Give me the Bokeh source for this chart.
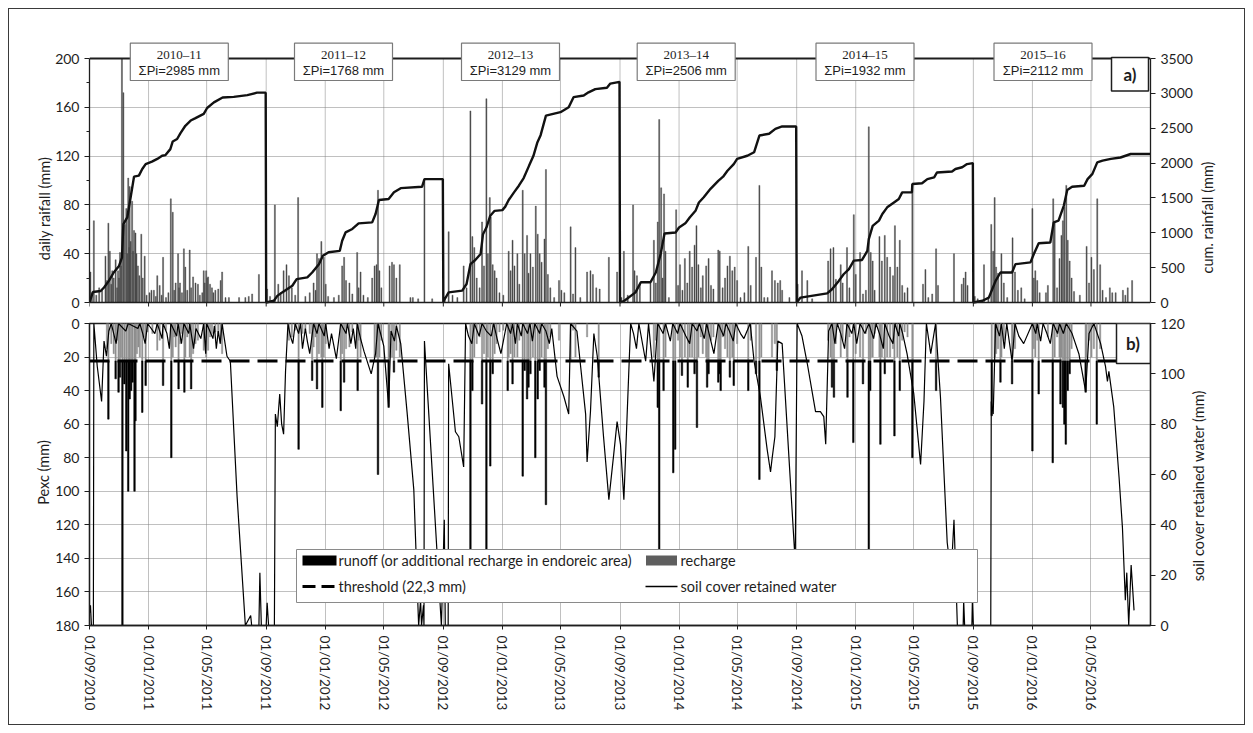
import math
import numpy as np
import pandas as pd
from bokeh.plotting import figure
from bokeh.models import Range1d, LinearAxis, FixedTicker, Label
from bokeh.layouts import column
from bokeh.core.properties import value
from bokeh.embed import file_html
from bokeh.resources import INLINE

# ---------------- data ----------------
START = pd.Timestamp("2010-09-01")
END = pd.Timestamp("2016-09-01")

x_tick_labels = ["01/09/2010", "01/01/2011", "01/05/2011", "01/09/2011", "01/01/2012", "01/05/2012",
                 "01/09/2012", "01/01/2013", "01/05/2013", "01/09/2013", "01/01/2014", "01/05/2014",
                 "01/09/2014", "01/01/2015", "01/05/2015", "01/09/2015", "01/01/2016", "01/05/2016"]

season_names = ["2010\u201311", "2011\u201312", "2012\u201313", "2013\u201314", "2014\u201315", "2015\u201316"]
season_totals = [2985, 1768, 3129, 2506, 1932, 2112]
threshold_mm = 22.3

# daily rainfall (day since 01/09/2010, mm)
rain_s1 = [(2,25),(5,8),(9,67),(14,6),(20,12),(26,10),(33,38),(36,18),(39,65),(42,42),(45,15),(47,26),(50,20),(54,35),(57,12),(59,26),(61,20),(63,41),(65,30),(67,215),(70,172),(73,64),(76,77),(78,40),(80,102),(82,45),(83,95),(85,50),(88,83),(90,42),(92,59),(95,57),(97,40),(100,30),(103,22),(107,56),(110,20),(114,38),(118,6),(124,8),(128,10),(133,10),(137,5),(140,22),(145,14),(149,6),(152,37),(158,4),(163,8),(168,85),(172,74),(175,10),(178,16),(183,40),(185,12),(187,16),(191,8),(195,44),(198,29),(202,10),(207,43),(210,12),(214,21),(219,16),(224,15),(228,6),(233,8),(236,26),(238,16),(241,26),(243,20),(245,21),(249,15),(253,12),(256,8),(260,10),(266,11),(271,18),(274,25),(281,4),(288,4),(309,4),(322,4),(329,5),(336,7),(350,23)]
rain_s2 = [(367,11),(373,5),(383,80),(390,15),(395,8),(401,26),(407,31),(412,22),(418,12),(425,6),(431,86),(446,5),(455,8),(463,16),(467,10),(470,40),(474,36),(479,50),(484,37),(488,15),(493,5),(505,4),(515,6),(522,30),(526,37),(530,18),(537,16),(543,7),(553,41),(556,12),(560,25),(566,6),(575,4),(584,20),(589,30),(593,31),(596,92),(599,26),(603,12),(620,30),(625,33),(629,31),(634,20),(641,31),(663,4),(668,4),(679,3),(692,100),(708,3)]
rain_s3 = [(734,4),(742,58),(750,6),(760,4),(773,30),(779,12),(787,157),(791,54),(795,45),(800,20),(806,12),(811,66),(815,30),(820,167),(823,40),(827,86),(829,70),(833,31),(837,26),(841,20),(847,8),(855,6),(866,42),(870,26),(874,51),(878,30),(884,40),(888,15),(895,92),(899,40),(904,55),(907,24),(911,40),(916,29),(922,79),(926,56),(930,40),(934,33),(940,52),(943,109),(947,23),(952,12),(960,4),(970,18),(975,10),(981,8),(994,62),(999,7),(1004,45),(1014,4),(1028,25),(1035,26),(1040,23),(1047,12),(1054,11),(1073,37),(1090,25)]
rain_s4 = [(1099,4),(1104,42),(1112,6),(1123,80),(1126,26),(1131,22),(1137,15),(1159,16),(1166,51),(1170,16),(1174,66),(1177,150),(1181,94),(1184,20),(1187,89),(1190,42),(1197,4),(1212,76),(1216,14),(1220,31),(1225,10),(1230,36),(1235,16),(1240,42),(1245,29),(1250,47),(1254,63),(1258,31),(1263,12),(1267,22),(1274,30),(1279,36),(1284,14),(1289,11),(1299,43),(1302,42),(1308,12),(1313,20),(1318,30),(1323,38),(1328,26),(1333,29),(1338,18),(1345,4),(1353,8),(1361,46),(1366,14),(1377,37),(1384,96),(1388,29),(1394,4),(1401,4),(1410,26),(1416,18),(1422,16),(1427,18),(1431,10),(1446,4)]
rain_s5 = [(1463,15),(1472,26),(1483,18),(1493,3),(1526,34),(1531,44),(1537,45),(1542,19),(1552,31),(1556,16),(1565,45),(1570,12),(1579,72),(1583,23),(1592,41),(1598,7),(1604,10),(1610,144),(1614,41),(1618,34),(1622,10),(1632,54),(1637,34),(1643,55),(1648,37),(1654,29),(1660,22),(1664,63),(1669,29),(1674,51),(1679,14),(1684,8),(1690,12),(1700,97),(1722,15),(1727,27),(1733,4),(1741,7),(1749,44),(1753,14),(1786,40),(1802,15),(1806,20),(1810,25),(1814,14)]
rain_s6 = [(1829,5),(1835,3),(1848,31),(1857,4),(1863,64),(1867,42),(1870,86),(1873,29),(1877,24),(1884,40),(1889,16),(1896,4),(1907,53),(1912,25),(1918,10),(1925,12),(1932,3),(1948,77),(1951,20),(1954,26),(1958,18),(1963,8),(1976,8),(1980,14),(1991,85),(1994,66),(1999,12),(2004,36),(2008,55),(2011,67),(2014,78),(2018,96),(2021,51),(2025,34),(2029,20),(2034,9),(2046,6),(2060,46),(2065,16),(2070,37),(2075,27),(2082,85),(2088,31),(2093,10),(2100,4),(2108,12),(2113,8),(2120,8),(2135,10),(2140,6),(2145,12),(2154,18)]

# cumulative rainfall per hydrological year (day, mm)
cum_s1 = [(0,0),(7,150),(23,165),(30,215),(40,310),(50,430),(61,525),(67,645),(70,1125),(78,1220),(85,1510),(92,1805),(102,1820),(109,1915),(116,1985),(129,2020),(140,2060),(150,2105),(157,2115),(167,2200),(172,2310),(181,2345),(188,2430),(198,2535),(209,2610),(219,2645),(236,2705),(243,2790),(257,2870),(275,2940),(298,2950),(326,2975),(346,3010),(364,3010)]
cum_s2 = [(365,0),(381,25),(388,95),(398,145),(408,190),(419,240),(428,335),(450,360),(460,430),(474,550),(482,670),(494,720),(517,740),(522,885),(529,1005),(543,1055),(556,1135),(584,1150),(591,1270),(598,1470),(618,1485),(629,1580),(643,1640),(687,1660),(692,1770),(730,1770)]
cum_s3 = [(731,0),(732,25),(742,145),(770,170),(779,265),(787,550),(797,610),(808,695),(813,980),(820,1075),(828,1245),(837,1315),(853,1325),(859,1375),(866,1470),(877,1580),(887,1675),(897,1785),(908,1960),(917,2100),(925,2290),(932,2400),(943,2680),(973,2730),(990,2800),(1000,2945),(1021,2970),(1031,3015),(1045,3060),(1069,3080),(1076,3140),(1095,3165)]
cum_s4 = [(1096,0),(1105,25),(1128,145),(1139,290),(1159,290),(1170,430),(1180,695),(1188,990),(1211,1005),(1218,1075),(1231,1135),(1240,1220),(1252,1315),(1259,1435),(1269,1510),(1283,1630),(1299,1745),(1309,1805),(1318,1890),(1331,1985),(1338,2060),(1359,2105),(1373,2155),(1384,2395),(1404,2420),(1417,2490),(1431,2525),(1460,2525)]
cum_s5 = [(1461,0),(1469,70),(1524,130),(1534,190),(1548,310),(1558,405),(1569,480),(1579,600),(1596,610),(1607,740),(1610,910),(1618,1100),(1631,1175),(1638,1270),(1648,1365),(1662,1435),(1672,1485),(1679,1580),(1699,1580),(1700,1700),(1720,1710),(1731,1770),(1745,1795),(1751,1865),(1782,1880),(1789,1915),(1803,1940),(1813,1985),(1825,2000)]
cum_s6 = [(1826,0),(1845,25),(1858,70),(1865,190),(1872,310),(1882,430),(1906,430),(1913,550),(1944,575),(1951,695),(1961,850),(1985,860),(1992,1150),(2002,1175),(2013,1390),(2020,1615),(2030,1660),(2055,1675),(2062,1770),(2072,1845),(2082,2010),(2093,2035),(2110,2060),(2130,2080),(2151,2130),(2191,2130)]

# excess precipitation Pexc (day, mm)
pexc_s1 = [(36,15),(39,57),(45,12),(50,18),(54,33),(57,10),(60,41),(63,32),(65,20),(68,200),(72,36),(76,76),(80,100),(83,45),(86,40),(89,35),(93,100),(95,58),(98,18),(101,14),(104,20),(109,53),(112,8),(116,37),(120,5),(130,6),(140,16),(145,10),(152,37),(158,4),(169,80),(172,20),(175,8),(178,14),(184,39),(187,12),(191,6),(196,41),(198,20),(202,8),(207,20),(210,39),(214,18),(219,12),(224,10),(236,16),(241,20),(245,16),(249,8),(253,6),(260,5),(266,6),(271,12),(274,18)]
pexc_s2 = [(412,10),(418,8),(425,4),(432,75),(440,6),(446,4),(455,6),(460,34),(463,14),(467,8),(470,39),(474,18),(479,20),(481,50),(484,20),(488,12),(519,52),(522,18),(526,35),(530,15),(537,14),(543,5),(554,40),(556,10),(560,20),(589,20),(593,20),(596,90),(599,20),(603,10),(618,50),(620,20),(625,20),(629,29),(634,16),(641,20)]
pexc_s3 = [(787,135),(791,40),(795,20),(800,12),(806,8),(811,48),(815,18),(820,140),(823,20),(828,85),(833,30),(837,18),(841,12),(847,5),(855,4),(864,40),(866,20),(870,18),(874,36),(878,20),(884,20),(888,10),(895,91),(899,28),(904,45),(907,38),(911,30),(916,20),(921,80),(926,45),(930,28),(934,20),(940,38),(943,108),(947,15),(952,8),(970,10),(994,22),(999,4),(1004,20),(1028,8),(1052,32)]
pexc_s4 = [(1166,20),(1170,10),(1174,50),(1177,140),(1186,40),(1190,20),(1206,89),(1210,75),(1216,10),(1220,20),(1224,31),(1230,20),(1236,38),(1240,20),(1245,20),(1250,30),(1255,62),(1258,20),(1263,8),(1267,18),(1274,20),(1276,38),(1279,30),(1284,10),(1289,8),(1299,35),(1302,30),(1304,40),(1308,8),(1313,15),(1318,20),(1323,32),(1328,20),(1331,37),(1338,12),(1361,40),(1366,10),(1377,30),(1384,93),(1388,20),(1410,20),(1416,12),(1420,28)]
pexc_s5 = [(1526,10),(1531,20),(1534,38),(1538,44),(1542,12),(1552,20),(1556,10),(1565,20),(1566,44),(1570,8),(1578,71),(1583,18),(1592,20),(1598,36),(1604,6),(1610,140),(1613,40),(1614,20),(1618,20),(1622,6),(1632,20),(1634,72),(1637,20),(1643,30),(1648,20),(1654,20),(1660,15),(1663,67),(1669,20),(1674,40),(1679,10),(1684,5),(1690,8),(1700,80),(1749,40)]
pexc_s6 = [(1864,55),(1870,20),(1873,18),(1877,15),(1882,35),(1884,20),(1889,10),(1906,36),(1907,20),(1912,15),(1948,76),(1951,15),(1954,20),(1958,10),(1961,42),(1980,8),(1990,83),(1994,20),(1999,8),(2004,20),(2006,48),(2008,20),(2011,50),(2014,60),(2017,72),(2021,40),(2025,30),(2029,15),(2058,41),(2060,20),(2065,10),(2070,20),(2075,15),(2081,60),(2088,15)]

# soil cover retained water (day, mm)
sw_s1 = [(0,5),(2,8),(4,0),(8,0),(9,120),(16,103),(25,89),(30,113),(35,107),(40,117),(45,120),(50,116),(55,112),(60,120),(75,117),(80,120),(100,118),(104,120),(110,116),(115,112),(120,120),(135,116),(140,120),(150,114),(152,120),(160,116),(165,110),(168,120),(180,115),(183,120),(190,112),(195,120),(205,116),(207,120),(215,110),(220,118),(230,114),(236,120),(240,108),(242,120),(255,114),(258,119),(262,110),(266,117),(270,112),(274,120),(277,116),(284,107),(291,105),(305,51),(322,0),(333,4),(335,0),(350,0),(352,21),(355,0),(365,0)]
sw_s2 = [(367,9),(370,0),(382,0),(384,84),(388,79),(393,92),(397,80),(401,76),(405,101),(410,120),(415,115),(420,112),(425,120),(432,116),(436,120),(440,110),(446,118),(450,113),(455,108),(463,120),(470,116),(474,120),(485,115),(488,120),(495,110),(500,116),(510,106),(519,120),(530,116),(533,120),(540,112),(545,118),(550,110),(553,120),(560,114),(567,109),(582,100),(591,108),(596,120),(608,111),(618,87),(623,117),(630,113),(634,119),(643,112),(656,85),(670,54),(680,0),(684,10),(686,0),(690,8),(691,0),(692,113),(727,0),(733,42),(735,0)]
sw_s3 = [(741,0),(742,104),(756,77),(763,75),(773,63),(777,120),(783,115),(790,112),(795,120),(805,115),(811,120),(820,117),(830,115),(835,120),(842,114),(850,108),(862,120),(870,116),(874,120),(880,112),(884,120),(892,115),(895,120),(905,116),(910,120),(915,113),(920,120),(930,116),(934,120),(943,117),(950,112),(955,118),(966,99),(980,91),(990,84),(994,120),(1007,117),(1025,84),(1028,65),(1035,85),(1042,116),(1049,107),(1062,75),(1073,50),(1083,68),(1090,81),(1097,72),(1104,50),(1118,120)]
sw_s4 = [(1124,116),(1130,110),(1135,120),(1149,105),(1155,120),(1166,97),(1174,120),(1185,116),(1190,120),(1200,113),(1205,120),(1215,116),(1220,120),(1232,115),(1240,112),(1245,120),(1255,117),(1260,120),(1270,114),(1275,120),(1290,108),(1299,120),(1310,115),(1315,120),(1322,117),(1330,113),(1335,120),(1345,116),(1352,114),(1365,120),(1373,105),(1386,91),(1400,70),(1407,61),(1410,66),(1416,75),(1422,113),(1431,112),(1458,25),(1462,120)]
sw_s5 = [(1472,115),(1483,104),(1500,85),(1510,85),(1517,83),(1521,72),(1527,117),(1534,120),(1540,112),(1545,120),(1552,116),(1560,110),(1565,120),(1575,116),(1579,120),(1585,112),(1592,120),(1602,116),(1610,120),(1620,114),(1625,120),(1632,116),(1640,110),(1643,120),(1652,115),(1660,112),(1664,120),(1672,115),(1674,120),(1680,116),(1689,108),(1703,92),(1717,64),(1724,89),(1729,120),(1738,108),(1748,120),(1758,91),(1772,33),(1780,20),(1786,42),(1793,0),(1805,0),(1806,10),(1808,0),(1823,0),(1824,10),(1826,0)]
sw_s6 = [(1862,0),(1863,89),(1867,84),(1872,120),(1880,115),(1884,120),(1890,110),(1895,120),(1906,105),(1912,120),(1920,115),(1930,112),(1948,120),(1955,116),(1958,120),(1965,113),(1970,120),(1978,116),(1985,112),(1991,120),(2000,116),(2004,120),(2012,116),(2018,120),(2030,116),(2044,108),(2058,93),(2065,116),(2075,120),(2089,112),(2099,103),(2103,97),(2106,101),(2116,87),(2127,59),(2134,39),(2140,10),(2143,21),(2147,0),(2152,24),(2158,6)]


def unzip(*seasons):
    d = np.array([p[0] for s in seasons for p in s], dtype=float)
    v = np.array([p[1] for s in seasons for p in s], dtype=float)
    return d, v


rain_day, rain_mm = unzip(rain_s1, rain_s2, rain_s3, rain_s4, rain_s5, rain_s6)
cum_day, cum_mm = unzip(cum_s1, cum_s2, cum_s3, cum_s4, cum_s5, cum_s6)
pexc_day, pexc_mm = unzip(pexc_s1, pexc_s2, pexc_s3, pexc_s4, pexc_s5, pexc_s6)
sw_day, sw_mm = unzip(sw_s1, sw_s2, sw_s3, sw_s4, sw_s5, sw_s6)

NDAYS = (END - START).days
x_ticks = [(pd.to_datetime(l, format="%d/%m/%Y") - START).days for l in x_tick_labels]

# ---------------- layout helpers (pixel -> data) ----------------
FRAME_L, FRAME_W = 89, 1061
A_BOTTOM, A_PX_PER_MM = 302, 244 / 200
B_TOP, B_PX_PER_MM = 323, 302 / 180
A_TOP, A_FRAME_BOTTOM = 40, 307
B_BOTTOM = 625


def xd(px):
    return (px - FRAME_L) * NDAYS / FRAME_W


def ya(py):
    return (A_BOTTOM - py) / A_PX_PER_MM


def yb(py):
    return (py - B_TOP) / B_PX_PER_MM


FONT = "Lato"
DARK = "#1e1e1e"
GRID = "#808080"
TITLE_SIZE = "14.5px"

YA_END = ya(A_TOP)
YA_START = ya(A_FRAME_BOTTOM)
xr = Range1d(0, NDAYS)


def style_axis(ax, fs="14px"):
    ax.major_label_text_font = FONT
    ax.major_label_text_font_size = fs
    ax.major_label_text_color = DARK
    ax.axis_line_color = DARK
    ax.axis_line_width = 1.3
    ax.major_tick_line_color = DARK
    ax.minor_tick_line_color = DARK
    ax.major_tick_in = 0
    ax.major_tick_out = 5
    ax.minor_tick_in = 0
    ax.minor_tick_out = 3


def side_title(p, side, text, dx, dy):
    """Rotated title (reads bottom-to-top) in a side panel; dx/dy in px within that panel."""
    p.add_layout(Label(x=dx, y=dy, x_units="screen", y_units="screen", text=text, angle=math.pi / 2,
                       text_align="center", text_baseline="middle", text_font=FONT,
                       text_font_size=TITLE_SIZE, text_color=DARK), side)


# ---------------- panel a ----------------
pA = figure(frame_width=FRAME_W, frame_height=A_FRAME_BOTTOM - A_TOP, x_range=xr,
            y_range=Range1d(YA_START, YA_END), output_backend="svg", toolbar_location=None,
            min_border_left=80, min_border_right=94, min_border_top=31, min_border_bottom=5,
            outline_line_color=None, background_fill_color="white", border_fill_color="white")
pA.extra_y_ranges = {"cum": Range1d(YA_START * 3500 / 200, YA_END * 3500 / 200)}

pA.yaxis.ticker = FixedTicker(ticks=list(range(0, 201, 40)), minor_ticks=list(range(20, 200, 40)))
pA.yaxis.bounds = (0, 200)
style_axis(pA.yaxis[0])

ax_cum = LinearAxis(y_range_name="cum", ticker=FixedTicker(ticks=list(range(0, 3501, 500)), minor_ticks=[]),
                    bounds=(0, 3500))
style_axis(ax_cum)
pA.add_layout(ax_cum, "right")

side_title(pA, "left", "daily raifall (mm)", 8.5, 99)
side_title(pA, "right", "cum. rainfall (mm)", 11.5, 90)

pA.xaxis.visible = False
pA.xgrid.visible = False
pA.ygrid.ticker = FixedTicker(ticks=[40, 80, 120, 160])
pA.ygrid.grid_line_color = GRID
pA.ygrid.grid_line_dash = "1 1"
pA.ygrid.grid_line_width = 1

# vertical grid lines only inside the 0..200 band
pA.segment(x0=x_ticks[1:], y0=0, x1=x_ticks[1:], y1=200, line_color=GRID, line_dash="1 1", line_width=1)

# daily rainfall bars (axis max 200)
pA.vbar(x=rain_day, top=np.minimum(rain_mm, 200), bottom=0, width=2.2,
        fill_color="#4a4a4a", line_color="#4a4a4a", line_width=0.4)

# cumulative rainfall
pA.line(cum_day, cum_mm, y_range_name="cum", line_color="#111111", line_width=2.4)

# frame of panel a: top border, baseline and date ticks
pA.segment(x0=0, y0=200, x1=NDAYS, y1=200, line_color=DARK, line_width=2)
pA.segment(x0=0, y0=0, x1=NDAYS, y1=0, line_color=DARK, line_width=1.3)
pA.segment(x0=x_ticks, y0=0, x1=x_ticks, y1=ya(306), line_color=DARK, line_width=1)

# season labels
box_center_px = [178.8, 343, 510, 685.7, 864.5, 1042.5]
box_w_px = 98
box_cx = [xd(v) for v in box_center_px]
pA.rect(x=box_cx, y=(ya(42.7) + ya(80)) / 2, width=box_w_px * NDAYS / FRAME_W,
        height=ya(42.7) - ya(80), fill_color="white", line_color="#7a7a7a", line_width=1.2)
pA.text(x=box_cx, y=ya(54), text=season_names, text_font=value("Liberation Serif"),
        text_font_size="13px", text_align="center", text_baseline="middle", text_color=DARK)
pA.text(x=box_cx, y=ya(70), text=["\u03a3Pi=%d mm" % t for t in season_totals],
        text_font=value("Liberation Sans"), text_font_size="13px", text_align="center",
        text_baseline="middle", text_color=DARK)

# "a)" box
pA.rect(x=xd((1111 + 1148) / 2), y=(ya(57) + ya(90.5)) / 2, width=(1148 - 1111) * NDAYS / FRAME_W,
        height=ya(57) - ya(90.5), fill_color="white", line_color=DARK, line_width=1.5)
pA.text(x=[xd(1129.5)], y=[ya(74)], text=["a)"], text_font=value(FONT), text_font_style="bold",
        text_font_size="17px", text_align="center", text_baseline="middle", text_color=DARK)

# ---------------- panel b ----------------
pB = figure(frame_width=FRAME_W, frame_height=B_BOTTOM - B_TOP, x_range=xr, y_range=Range1d(180, 0),
            output_backend="svg", toolbar_location=None,
            min_border_left=80, min_border_right=94, min_border_top=11, min_border_bottom=99,
            outline_line_color=DARK, outline_line_width=1.3,
            background_fill_color="white", border_fill_color="white")
pB.extra_y_ranges = {"sw": Range1d(0, 120)}

pB.yaxis.ticker = FixedTicker(ticks=list(range(0, 181, 20)), minor_ticks=[])
style_axis(pB.yaxis[0])

ax_sw = LinearAxis(y_range_name="sw", ticker=FixedTicker(ticks=list(range(0, 121, 20)), minor_ticks=[]))
style_axis(ax_sw)
pB.add_layout(ax_sw, "right")

side_title(pB, "left", "Pexc (mm)", 7.5, 153)
side_title(pB, "right", "soil cover retained water (mm)", 10.6, 140)

pB.xaxis.ticker = FixedTicker(ticks=x_ticks, minor_ticks=[])
pB.xaxis.major_label_overrides = {t: l for t, l in zip(x_ticks, x_tick_labels)}
style_axis(pB.xaxis[0], fs="13.5px")
pB.xaxis.major_label_orientation = "vertical"
pB.xaxis.major_tick_out = 4
pB.xaxis.major_label_standoff = 6

pB.xgrid.ticker = FixedTicker(ticks=x_ticks[1:])
pB.xgrid.grid_line_color = GRID
pB.xgrid.grid_line_dash = "1 1"
pB.ygrid.ticker = FixedTicker(ticks=list(range(20, 180, 20)))
pB.ygrid.grid_line_color = GRID
pB.ygrid.grid_line_dash = "1 1"

# recharge (up to threshold) and runoff (beyond threshold)
pB.vbar(x=pexc_day, top=0, bottom=np.minimum(pexc_mm, threshold_mm), width=2.8,
        fill_color="#8f8f8f", line_color="#8f8f8f", line_width=0.4)
ro = pexc_mm > threshold_mm
pB.vbar(x=pexc_day[ro], top=threshold_mm, bottom=pexc_mm[ro], width=3.2,
        fill_color="#000000", line_color="#000000", line_width=0.5)

# soil cover retained water
pB.line(sw_day, sw_mm, y_range_name="sw", line_color="#000000", line_width=1.2)

# threshold
pB.line(x=[0, NDAYS], y=[threshold_mm, threshold_mm], line_color="#000000", line_width=3, line_dash="20 8")

# "b)" box
pB.rect(x=xd((1116 + 1150) / 2), y=(yb(323) + yb(363)) / 2, width=(1150 - 1116) * NDAYS / FRAME_W,
        height=yb(363) - yb(323), fill_color="white", line_color=DARK, line_width=1.5)
pB.text(x=[xd(1132.5)], y=[yb(343)], text=["b)"], text_font=value(FONT), text_font_style="bold",
        text_font_size="17px", text_align="center", text_baseline="middle", text_color=DARK)

# legend (drawn manually to mirror the original two-column layout)
pB.rect(x=xd((296 + 977) / 2), y=yb((549 + 602) / 2), width=(977 - 296) * NDAYS / FRAME_W,
        height=yb(602) - yb(549), fill_color="white", line_color="#8a8a8a", line_width=1)
pB.rect(x=xd(319), y=yb(560), width=34 * NDAYS / FRAME_W, height=10 / B_PX_PER_MM,
        fill_color="#000000", line_color=None)
pB.rect(x=xd(661), y=yb(560), width=31 * NDAYS / FRAME_W, height=10 / B_PX_PER_MM,
        fill_color="#5e5e5e", line_color=None)
pB.line(x=[xd(302), xd(336)], y=[yb(586), yb(586)], line_color="#000000", line_width=3, line_dash="13 6")
pB.line(x=[xd(645), xd(677)], y=[yb(586), yb(586)], line_color="#000000", line_width=1.3)
pB.text(x=[xd(338), xd(680), xd(338), xd(680)], y=[yb(560), yb(560), yb(586), yb(586)],
        text=["runoff (or additional recharge in endoreic area)", "recharge",
              "threshold (22,3 mm)", "soil cover retained water"],
        text_font=value(FONT), text_font_size="14.5px", text_align="left", text_baseline="middle",
        text_color=DARK)

layout = column(pA, pB, margin=(8, 0, 0, 8), styles={"border": "1px solid #3a3a3a", "background": "white"})

open("out.html", "w").write(file_html(layout, INLINE))
